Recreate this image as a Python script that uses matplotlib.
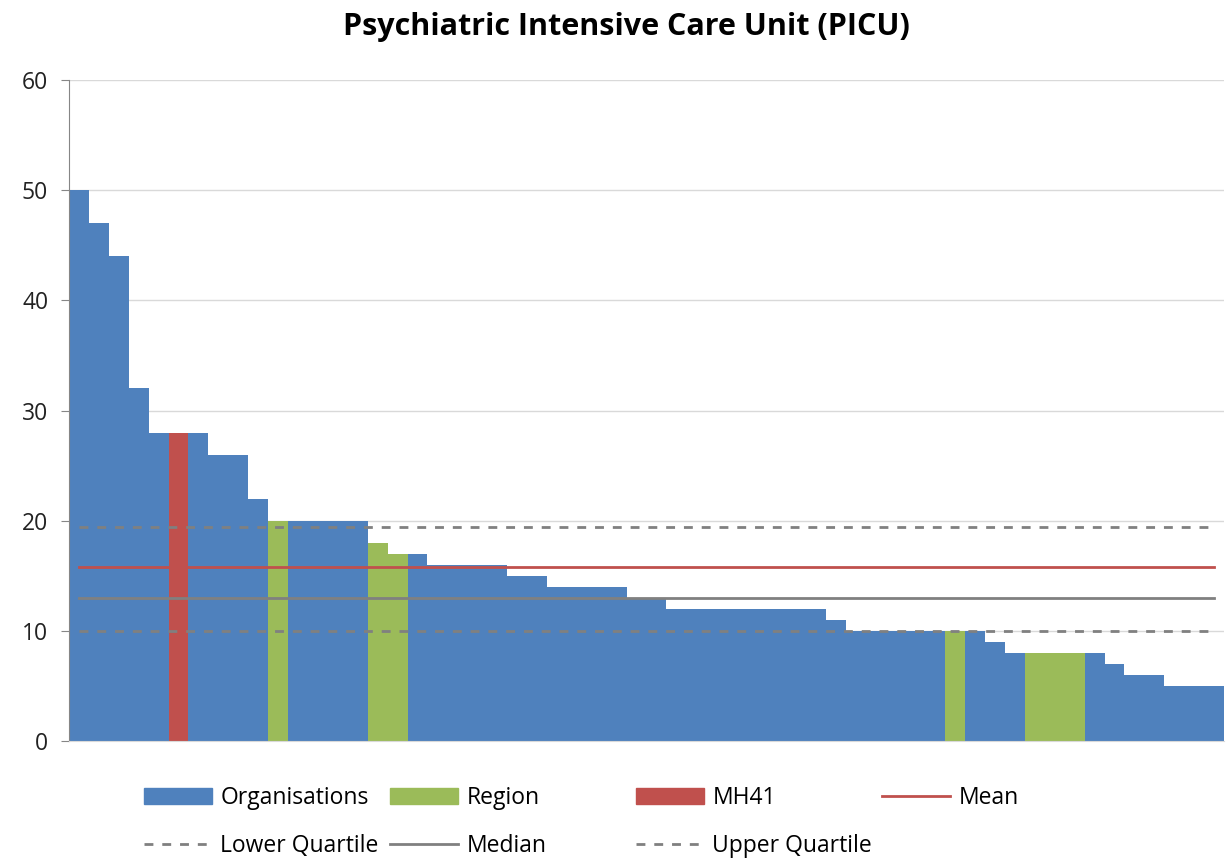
import matplotlib.pyplot as plt
import matplotlib.lines as mlines
import matplotlib.patches as mpatches
import numpy as np

plt.rcParams['font.family'] = ['Open Sans', 'DejaVu Sans']

# values per organisation, sorted descending
values = [50, 47, 44, 32, 28, 28, 28, 26, 26, 22,
          20, 20, 20, 20, 20, 18, 17, 17, 16, 16,
          16, 16, 15, 15, 14, 14, 14, 14, 13, 13,
          12, 12, 12, 12, 12, 12, 12, 12, 11, 10,
          10, 10, 10, 10, 10, 10, 9, 8, 8, 8,
          8, 8, 7, 6, 6, 5, 5, 5]
# which group each bar belongs to
groups = ["Org"] * 5 + ["MH41"] + ["Org"] * 4 + ["Region"] + ["Org"] * 4 \
    + ["Region", "Region"] + ["Org"] * 27 + ["Region"] + ["Org"] * 3 \
    + ["Region"] * 3 + ["Org"] * 7

mean_val = 15.8
median_val = 13
lower_q = 10
upper_q = 19.4

colors = {"Org": "#4F81BD", "Region": "#9BBB59", "MH41": "#C0504D"}
grey = "#808080"

fig = plt.figure(figsize=(12.31, 8.58), dpi=100)
ax = fig.add_axes([69 / 1231, 1 - 741 / 858, (1224 - 69) / 1231, (741 - 80) / 858])

x = np.arange(len(values))
ax.bar(x, values, width=1.0, color=[colors[g] for g in groups], linewidth=0, zorder=2)

lw = 2.0
dash = (0, (3.2, 3.2))
ax.plot([x[0], x[-1]], [upper_q] * 2, color=grey, lw=lw, ls=dash, zorder=3)
ax.plot([x[0], x[-1]], [mean_val] * 2, color="#C0504D", lw=lw, zorder=3)
ax.plot([x[0], x[-1]], [median_val] * 2, color=grey, lw=lw, zorder=3)
ax.plot([x[0], x[-1]], [lower_q] * 2, color=grey, lw=lw, ls=dash, zorder=3)

ax.set_xlim(-0.5, len(values) - 0.5)
ax.set_ylim(0, 60)
ax.set_yticks(range(0, 61, 10))
ax.set_xticks([])
ax.yaxis.grid(True, color="#D9D9D9", lw=1, zorder=0)
ax.set_axisbelow(True)
for s in ["top", "right"]:
    ax.spines[s].set_visible(False)
ax.spines["left"].set_color("#868686")
ax.spines["bottom"].set_color("#D9D9D9")
ax.tick_params(axis="y", length=6, color="#868686", labelsize=16.5, pad=9, labelcolor="#222222")

fig.text(626 / 1231, 1 - 27 / 858, "Psychiatric Intensive Care Unit (PICU)",
         ha="center", va="center", fontsize=22, fontweight="bold")

# legend, four fixed columns like Excel
h_org = mpatches.Patch(color=colors["Org"], label="Organisations")
h_reg = mpatches.Patch(color=colors["Region"], label="Region")
h_mh = mpatches.Patch(color=colors["MH41"], label="MH41")
h_mean = mlines.Line2D([], [], color="#C0504D", lw=lw, label="Mean")
h_lq = mlines.Line2D([], [], color=grey, lw=lw, ls=dash, label="Lower Quartile")
h_med = mlines.Line2D([], [], color=grey, lw=lw, label="Median")
h_uq = mlines.Line2D([], [], color=grey, lw=lw, ls=dash, label="Upper Quartile")

cols = [([h_org, h_lq], 144), ([h_reg, h_med], 390), ([h_mh, h_uq], 636), ([h_mean], 882)]
for handles, xpix in cols:
    fig.legend(handles=handles, loc="upper left",
               bbox_to_anchor=(xpix / 1231, 1 - 786 / 858),
               frameon=False, fontsize=16.5, handlelength=2.98, handleheight=0.65,
               handletextpad=0.35, borderpad=0, borderaxespad=0, labelspacing=1.04)

fig.savefig("out.png", dpi=100)
